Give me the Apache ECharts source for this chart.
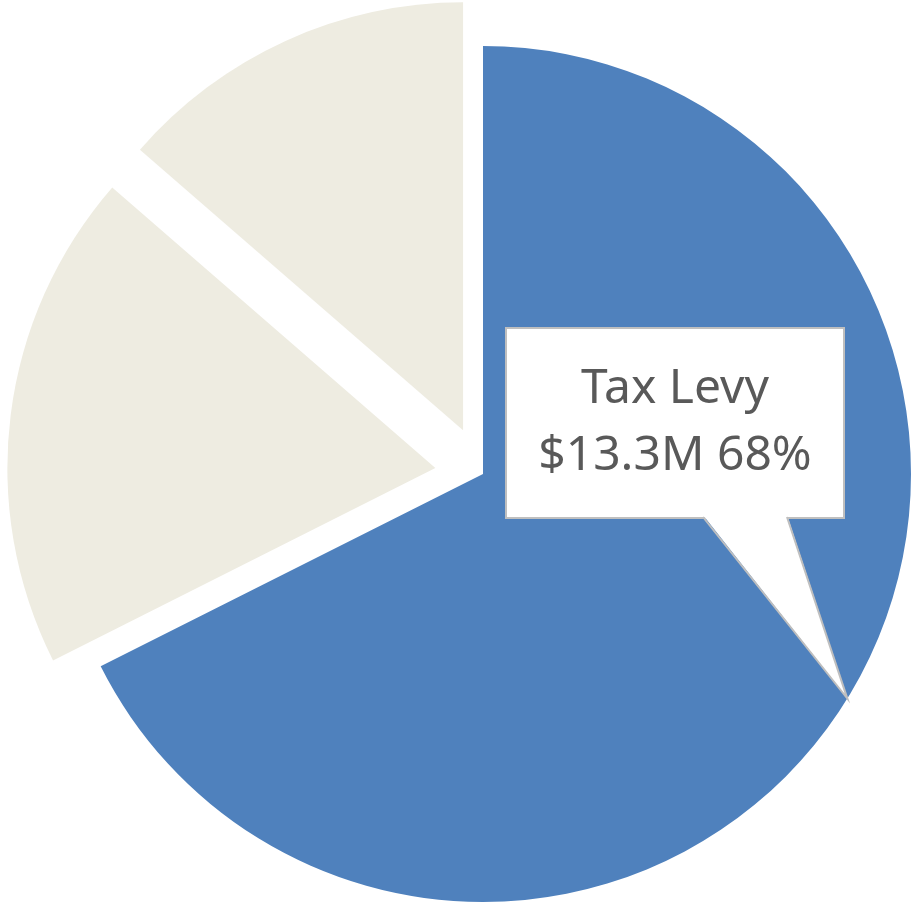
<!DOCTYPE html>
<html><head><meta charset="utf-8">
<script src="https://cdn.jsdelivr.net/npm/echarts@6/dist/echarts.min.js"></script>
<style>html,body{margin:0;padding:0;background:#fff}#c{width:917px;height:903px}</style>
</head><body><div id="c"></div>
<script>
// ---- data ----
const categories = ['Tax Levy', 'Other Revenue', 'Fund Balance'];
const values = [13.3, 3.7, 2.68];           // $M
const exploded = [false, true, true];
const colors = ['#4F81BD', '#EEECE1', '#EEECE1'];
const labeled = [true, false, false];

// ---- layout ----
const CX = 483, CY = 474, R = 428;
const BOX = { x: 507, y: 329, w: 336, h: 188 };
const TAIL_BASE = [703, 787];

const total = values.reduce((a, b) => a + b, 0);
const midAng = (values[0] / 2) / total * 2 * Math.PI; // clockwise from 12 o'clock
const tip = [CX + R * Math.sin(midAng), CY - R * Math.cos(midAng)];
const by = BOX.y + BOX.h;

const chart = echarts.init(document.getElementById('c'), null, { renderer: 'canvas' });
chart.setOption({
  animation: false,
  backgroundColor: '#ffffff',
  series: [{
    type: 'pie',
    center: [CX, CY],
    radius: R,
    startAngle: 90,
    clockwise: true,
    selectedMode: 'multiple',
    selectedOffset: 48,
    avoidLabelOverlap: false,
    emphasis: { disabled: true },
    itemStyle: { borderWidth: 0 },
    label: {
      position: 'outside',
      formatter: function (p) { return p.name + '\n$' + p.value + 'M ' + Math.round(p.percent) + '%'; },
      fontFamily: 'Noto Sans',
      fontSize: 48,
      lineHeight: 67,
      color: '#595959',
      width: BOX.w,
      align: 'center',
      overflow: 'none',
      backgroundColor: '#ffffff',
      borderColor: '#BFBFBF',
      borderWidth: 2,
      padding: [31, 0, 23, 0]
    },
    labelLine: { show: false },
    labelLayout: function () {
      return { x: BOX.x + BOX.w / 2, y: BOX.y + BOX.h / 2, align: 'center', verticalAlign: 'middle' };
    },
    data: categories.map((name, i) => ({
      name: name,
      value: values[i],
      selected: exploded[i],
      itemStyle: { color: colors[i] },
      label: { show: labeled[i] }
    }))
  }],
  graphic: [
    {
      type: 'polygon', z: 100,
      shape: { points: [[TAIL_BASE[0], by - 2], tip, [TAIL_BASE[1], by - 2]] },
      style: { fill: '#ffffff', stroke: null }
    },
    {
      type: 'polyline', z: 101,
      shape: { points: [[TAIL_BASE[0], by], tip, [TAIL_BASE[1], by]] },
      style: { stroke: '#BFBFBF', lineWidth: 2, fill: null }
    }
  ]
});
</script>
</body></html>
